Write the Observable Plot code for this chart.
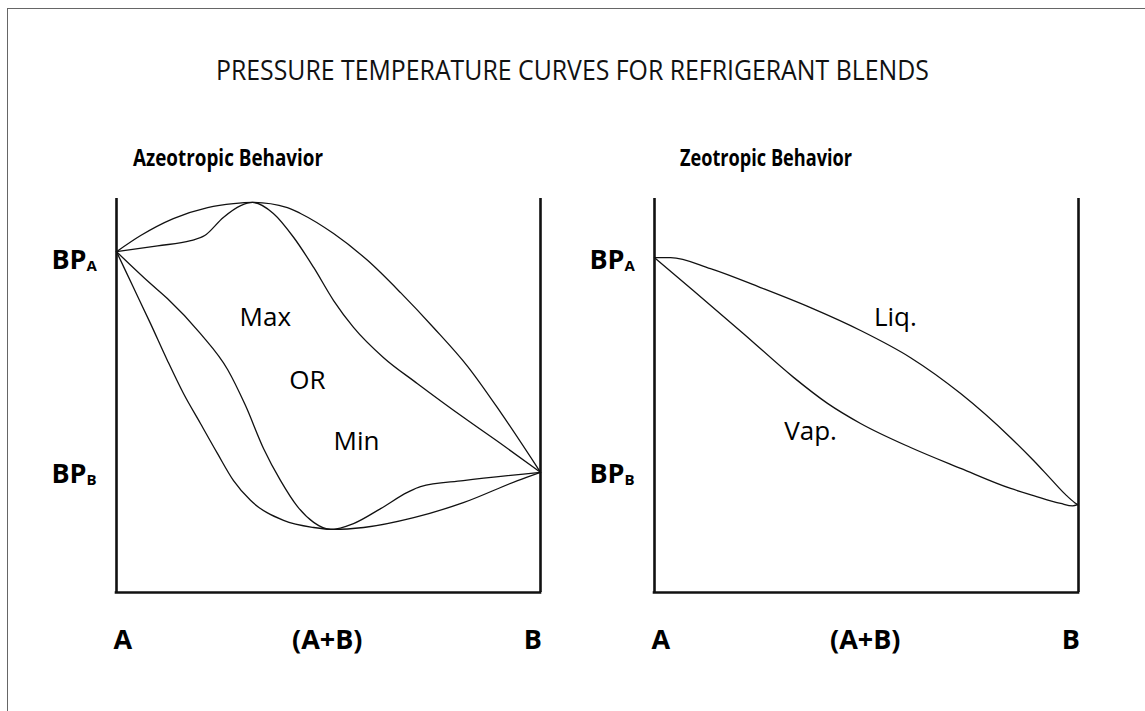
<!DOCTYPE html>
<html>
<head>
<meta charset="utf-8">
<script src="https://cdn.jsdelivr.net/npm/d3@7"></script>
<script src="https://cdn.jsdelivr.net/npm/@observablehq/plot@0.6"></script>
<style>
html, body { margin: 0; padding: 0; background: #fff; overflow: hidden; }
#page { position: relative; width: 1145px; height: 711px; overflow: hidden; font-family: "Open Sans", sans-serif; }
#frame { position: absolute; left: 7px; top: 8px; width: 2000px; height: 2000px; border-left: 1px solid #666; border-top: 1px solid #666; }
#title { position: absolute; left: 0; top: 54px; width: 1145px; text-align: center; font-size: 27px; line-height: 32px; color: #111; }
#title span { display: inline-block; transform: scaleX(0.92); white-space: nowrap; }
.panel { position: absolute; top: 120px; }
</style>
</head>
<body>
<div id="page">
  <div id="frame"></div>
  <div id="title"><span>PRESSURE TEMPERATURE CURVES FOR REFRIGERANT BLENDS</span></div>
  <div id="left" class="panel" style="left:0px"></div>
  <div id="right" class="panel" style="left:538px"></div>
</div>
<script>
// ---- Data (x: composition A→B as 0..1, y: pressure, arbitrary units 0..100) ----
const panelTitles = ["Azeotropic Behavior", "Zeotropic Behavior"];
const bpSubscripts = ["A", "B"];
const bpLabelY = [82.0, 27.7];
const xTickLabels = ["A", "(A+B)", "B"];
const xTickPos = [0.015, 0.497, 0.982];

// Azeotropic: four curves
const azUpperOuterX = [0, 0.057, 0.134, 0.215, 0.276, 0.321, 0.403, 0.434, 0.512, 0.592, 0.670, 0.748, 0.828, 0.906, 1];
const azUpperOuterY = [86.5, 90.6, 94.9, 97.7, 98.7, 99.0, 97.7, 96.2, 91.1, 84.3, 76.1, 67.2, 57.4, 45.7, 30.5];

const azUpperInnerX = [0, 0.097, 0.175, 0.208, 0.252, 0.293, 0.321, 0.370, 0.418, 0.465, 0.512, 0.559, 0.630, 0.710, 0.828, 0.906, 1];
const azUpperInnerY = [86.5, 88.0, 89.3, 90.6, 95.2, 98.2, 99.0, 96.2, 90.1, 82.5, 74.1, 67.3, 59.6, 53.0, 43.7, 37.8, 30.5];

const azLowerOuterX = [0, 0.040, 0.080, 0.120, 0.158, 0.198, 0.238, 0.276, 0.316, 0.394, 0.465, 0.512, 0.583, 0.701, 0.818, 0.946, 1];
const azLowerOuterY = [86.5, 77.4, 68.3, 58.9, 50.5, 42.9, 35.3, 28.4, 23.4, 18.3, 16.5, 16.0, 16.5, 19.0, 22.8, 28.4, 30.5];

const azLowerInnerX = [0, 0.080, 0.120, 0.198, 0.262, 0.304, 0.347, 0.387, 0.427, 0.465, 0.505, 0.559, 0.623, 0.686, 0.717, 0.818, 1];
const azLowerInnerY = [86.5, 78.4, 74.6, 65.7, 56.6, 47.5, 36.5, 28.4, 21.8, 17.8, 16.0, 17.5, 21.3, 25.4, 26.9, 28.4, 30.5];

// Zeotropic: liquid and vapour curves
const zeLiquidX = [0, 0.038, 0.132, 0.250, 0.368, 0.486, 0.604, 0.722, 0.840, 0.894, 0.934, 0.969, 0.991, 0.998];
const zeLiquidY = [85.0, 85.0, 82.2, 77.4, 72.3, 66.5, 59.6, 50.5, 39.3, 33.5, 28.9, 24.9, 22.8, 22.3];

const zeVaporX = [0, 0.092, 0.210, 0.328, 0.408, 0.486, 0.604, 0.722, 0.840, 0.894, 0.958, 0.986, 0.998];
const zeVaporY = [85.0, 76.6, 65.7, 54.6, 48.0, 42.9, 36.8, 31.5, 26.4, 24.6, 22.6, 22.0, 22.3];

// Annotations
const azNotes = ["Max", "OR", "Min"];
const azNoteX = [0.351, 0.450, 0.566];
const azNoteY = [69.8, 53.8, 38.3];
const zeNotes = ["Liq.", "Vap."];
const zeNoteX = [0.568, 0.368];
const zeNoteY = [69.8, 40.9];

const subtitlePos = 0.263;

// ---- Build tables ----
function zipCurve(name, xs, ys) { return xs.map((x, i) => ({curve: name, x, y: ys[i]})); }
function zipNotes(texts, xs, ys) { return texts.map((t, i) => ({text: t, x: xs[i], y: ys[i]})); }

const azCurves = [
  ...zipCurve("upperOuter", azUpperOuterX, azUpperOuterY),
  ...zipCurve("upperInner", azUpperInnerX, azUpperInnerY),
  ...zipCurve("lowerOuter", azLowerOuterX, azLowerOuterY),
  ...zipCurve("lowerInner", azLowerInnerX, azLowerInnerY)
];
const zeCurves = [
  ...zipCurve("liquid", zeLiquidX, zeLiquidY),
  ...zipCurve("vapor", zeVaporX, zeVaporY)
];
const bpRows = bpSubscripts.map((s, i) => ({sub: s, y: bpLabelY[i]}));
const tickRows = xTickLabels.map((t, i) => ({text: t, x: xTickPos[i]}));

function panel(title, titleWidth, curves, notes) {
  const svg = Plot.plot({
    width: 590,
    height: 550,
    marginLeft: 116,
    marginRight: 50,
    marginTop: 78,
    marginBottom: 78,
    x: {domain: [0, 1], axis: null},
    y: {domain: [0, 100], axis: null},
    style: {fontFamily: "'Open Sans', sans-serif", background: "transparent", overflow: "visible", color: "#000"},
    marks: [
      Plot.line(curves, {x: "x", y: "y", z: "curve", curve: "monotone-x", stroke: "#111", strokeWidth: 1.3}),
      Plot.ruleX([0, 1], {stroke: "#111", strokeWidth: 2.6}),
      Plot.ruleY([0], {stroke: "#111", strokeWidth: 2.6, strokeLinecap: "square"}),
      Plot.text(bpRows, {y: "y", text: () => "BP", frameAnchor: "left", textAnchor: "end", dx: -30, lineAnchor: "bottom", fontSize: 27, fontWeight: "bold", fill: "#000"}),
      Plot.text(bpRows, {y: "y", text: "sub", frameAnchor: "left", textAnchor: "start", dx: -30, dy: 2, lineAnchor: "bottom", fontSize: 15, fontWeight: "bold", fill: "#000"}),
      Plot.text(tickRows, {x: "x", text: "text", frameAnchor: "bottom", textAnchor: "middle", lineAnchor: "bottom", dy: 56, fontSize: 27, fontWeight: "bold", fill: "#000"}),
      Plot.text([title], {x: () => subtitlePos, text: d => d, frameAnchor: "top", textAnchor: "middle", lineAnchor: "bottom", dy: -33, fontSize: 23, fontWeight: "bold", fill: "#000"}),
      Plot.text(notes, {x: "x", y: "y", text: "text", textAnchor: "middle", lineAnchor: "middle", fontSize: 26, fill: "#000"})
    ]
  });
  // condense the subtitle to the reference's narrower typeface width
  d3.select(svg).selectAll("text").filter(function() { return this.textContent === title; })
    .attr("textLength", titleWidth).attr("lengthAdjust", "spacingAndGlyphs");
  return svg;
}

document.getElementById("left").append(panel(panelTitles[0], 190, azCurves, zipNotes(azNotes, azNoteX, azNoteY)));
document.getElementById("right").append(panel(panelTitles[1], 172, zeCurves, zipNotes(zeNotes, zeNoteX, zeNoteY)));
</script>
</body>
</html>
